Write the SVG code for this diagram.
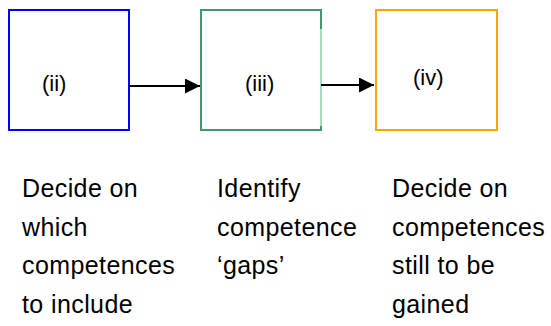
<svg xmlns="http://www.w3.org/2000/svg" width="551" height="326" viewBox="0 0 551 326">
<style>
text{font-family:"Liberation Sans",Arial,sans-serif;fill:#000}
.lbl{font-size:22px}
.desc{font-size:25px;letter-spacing:0.4px}
.box{fill:#fff;stroke-width:2}
.conn{stroke:#000;stroke-width:2;fill:none}
</style>
<defs>
<marker id="ah" markerWidth="15" markerHeight="15" refX="15" refY="7.5" orient="auto" markerUnits="userSpaceOnUse">
<path d="M0,0 L15,7.5 L0,15 Z" fill="#000"/>
</marker>
</defs>
<rect width="551" height="326" fill="#fff"/>
<g id="node-ii">
<rect class="box" x="9" y="10" width="120" height="120" stroke="#0000ff"/>
<text class="lbl" x="42" y="91">(ii)</text>
</g>
<g id="node-iii">
<rect class="box" x="201" y="10" width="120" height="120" stroke="#3d9a6b"/>
<line x1="321" y1="29" x2="321" y2="126" stroke="#a8dcc0" stroke-width="2"/>
<text class="lbl" x="245" y="91">(iii)</text>
</g>
<g id="node-iv">
<rect class="box" x="376" y="10" width="121" height="120" stroke="#ffa500"/>
<text class="lbl" x="413" y="85">(iv)</text>
</g>
<g id="connectors">
<line class="conn" x1="129" y1="86" x2="200" y2="86" marker-end="url(#ah)"/>
<line class="conn" x1="321" y1="85" x2="374" y2="85" marker-end="url(#ah)"/>
</g>
<g id="desc-ii">
<text class="desc" x="22" y="197">Decide on</text>
<text class="desc" x="22" y="236">which</text>
<text class="desc" x="22" y="274">competences</text>
<text class="desc" x="22" y="313">to include</text>
</g>
<g id="desc-iii">
<text class="desc" x="217" y="197">Identify</text>
<text class="desc" x="217" y="236">competence</text>
<text class="desc" x="217" y="274">‘gaps’</text>
</g>
<g id="desc-iv">
<text class="desc" x="392" y="197">Decide on</text>
<text class="desc" x="392" y="236">competences</text>
<text class="desc" x="392" y="274">still to be</text>
<text class="desc" x="392" y="313">gained</text>
</g>
</svg>
